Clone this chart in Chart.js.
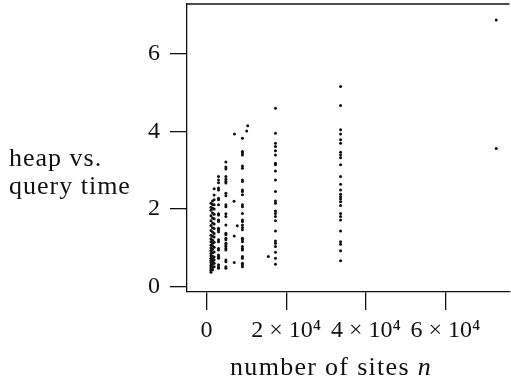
<!DOCTYPE html>
<html>
<head>
<meta charset="utf-8">
<script src="https://cdn.jsdelivr.net/npm/chart.js@4/dist/chart.umd.min.js"></script>
<style>
  html, body { margin: 0; padding: 0; background: #fff; }
  #wrap { width: 511px; height: 383px; }
</style>
</head>
<body>
<div id="wrap"><canvas id="scatterChart"></canvas></div>
<script>
(() => {
  'use strict'

  // tick positions
  const xTicks = [0, 20000, 40000, 60000];
  const yTicks = [0, 2, 4, 6];

  // measured times per number of sites (several runs each)
  const n1100 = [0.38, 0.42, 0.47, 0.51, 0.56, 0.63, 0.68, 0.74, 0.8, 0.86, 0.93, 1.0, 1.07, 1.16, 1.24, 1.33, 1.45, 1.58, 1.7, 1.83, 1.97, 2.05, 2.15];
  const n1500 = [0.44, 0.5, 0.58, 0.66, 0.72, 0.79, 0.88, 0.97, 1.05, 1.12, 1.2, 1.3, 1.41, 1.52, 1.64, 1.77, 1.9, 2.02, 2.12, 2.21];
  const n1900 = [0.52, 0.61, 0.69, 0.77, 0.9, 1.02, 1.15, 1.28, 1.37, 1.5, 1.62, 1.75, 1.87, 2.0, 2.11, 2.24, 2.36, 2.52];
  const n3000 = [2.84, 2.75, 2.68, 2.54, 2.49, 2.28, 2.24, 2.11, 1.88, 1.85, 1.72, 1.68, 1.51, 1.47, 1.42, 1.21, 1.16, 0.99, 0.95, 0.82, 0.78, 0.74, 0.57, 0.52, 0.48];
  const n4850 = [3.21, 3.08, 3.03, 2.84, 2.77, 2.71, 2.67, 2.41, 2.34, 2.11, 2.06, 1.88, 1.81, 1.59, 1.38, 1.34, 1.25, 1.21, 1.12, 1.08, 1.04, 0.99, 0.95, 0.69, 0.65, 0.52, 0.48];
  const n9000 = [3.82, 3.48, 3.44, 3.39, 3.11, 3.05, 2.75, 2.71, 2.49, 2.45, 2.37, 2.11, 2.06, 1.89, 1.72, 1.68, 1.59, 1.53, 1.47, 1.25, 1.21, 1.16, 1.04, 0.99, 0.95, 0.78, 0.74, 0.61, 0.57, 0.52];
  const n17300 = [4.59, 3.95, 3.69, 3.61, 3.5, 3.39, 3.18, 3.14, 2.98, 2.75, 2.45, 2.21, 2.15, 1.95, 1.89, 1.81, 1.7, 1.44, 1.18, 1.12, 1.04, 0.89, 0.74, 0.58];
  const n33650 = [5.15, 4.66, 4.04, 3.93, 3.78, 3.69, 3.46, 3.39, 3.32, 3.14, 2.84, 2.64, 2.49, 2.38, 2.32, 2.26, 2.19, 2.09, 1.89, 1.81, 1.72, 1.44, 1.16, 1.1, 0.93, 0.67];
  const n72750 = [6.86, 3.56];

  const sizes = [1100, 1500, 1900, 3000, 4850, 9000, 17300, 33650, 72750];
  const times = [n1100, n1500, n1900, n3000, n4850, n9000, n17300, n33650, n72750];

  // single runs off the columns
  const strayX = [7000, 6900, 7700, 6950, 6950, 10075, 10325, 15500];
  const strayY = [3.93, 2.2, 1.57, 1.31, 0.63, 4.01, 4.14, 0.78];

  const points = [];
  sizes.forEach((n, i) => times[i].forEach(t => points.push({ x: n, y: t })));
  strayX.forEach((n, i) => points.push({ x: n, y: strayY[i] }));

  const serif = '"Liberation Serif", "Times New Roman", serif';
  const ink = '#111';

  // frame top line and the two axis titles
  const extras = {
    id: 'extras',
    afterDraw(chart) {
      const { ctx, chartArea } = chart;
      ctx.save();
      ctx.strokeStyle = ink;
      ctx.lineWidth = 1.3;
      ctx.beginPath();
      ctx.moveTo(chartArea.left, chartArea.top);
      ctx.lineTo(chartArea.right, chartArea.top);
      ctx.stroke();

      ctx.fillStyle = ink;
      ctx.textBaseline = 'alphabetic';
      ctx.textAlign = 'left';
      ctx.font = '26px ' + serif;
      ctx.letterSpacing = '1px';
      ctx.fillText('heap vs.', 9, 166);
      ctx.fillText('query time', 9, 194);

      const a = 'number of sites ';
      ctx.letterSpacing = '1.3px';
      ctx.font = '26px ' + serif;
      const wa = ctx.measureText(a).width;
      ctx.font = 'italic 26px ' + serif;
      const wb = ctx.measureText('n').width;
      const x0 = 331 - (wa + wb) / 2;
      ctx.font = '26px ' + serif;
      ctx.fillText(a, x0, 375);
      ctx.font = 'italic 26px ' + serif;
      ctx.fillText('n', x0 + wa, 375);
      ctx.restore();
    }
  };

  const ctx = document.getElementById('scatterChart').getContext('2d');

  const config = {
    type: 'scatter',
    data: {
      datasets: [{
        data: points,
        pointRadius: 1.5,
        pointBorderWidth: 0,
        pointBackgroundColor: ink,
        pointHoverRadius: 1.5
      }]
    },
    options: {
      responsive: true,
      maintainAspectRatio: false,
      animation: false,
      layout: { padding: { top: 4, left: 0, right: 0, bottom: 0 } },
      plugins: {
        legend: { display: false },
        tooltip: { enabled: false }
      },
      scales: {
        x: {
          type: 'linear',
          min: -4917,
          max: 76075,
          afterFit: s => {
            s.height = 91;
            s.paddingLeft = 0; s.paddingRight = 0;
          },
          afterBuildTicks: s => { s.ticks = xTicks.map(v => ({ value: v })); },
          ticks: {
            color: ink,
            padding: 6,
            maxRotation: 0,
            font: { family: serif, size: 24 },
            callback: v => v === 0 ? '0' : (v / 10000) + '\u2005×\u200510⁴'
          },
          grid: { drawOnChartArea: false, tickLength: 18, color: ink, lineWidth: 1.3 },
          border: { display: true, color: ink, width: 1.3 }
        },
        y: {
          type: 'linear',
          min: -0.13,
          max: 7.27,
          afterFit: s => {
            s.width = 187;
            s.paddingTop = 0; s.paddingBottom = 0;
          },
          afterBuildTicks: s => { s.ticks = yTicks.map(v => ({ value: v })); },
          ticks: {
            color: ink,
            padding: 10,
            font: { family: serif, size: 24 }
          },
          grid: { drawOnChartArea: false, tickLength: 17, color: ink, lineWidth: 1.3 },
          border: { display: true, color: ink, width: 1.3 }
        }
      }
    },
    plugins: [extras]
  };

  new Chart(ctx, config);
})()
</script>
</body>
</html>
